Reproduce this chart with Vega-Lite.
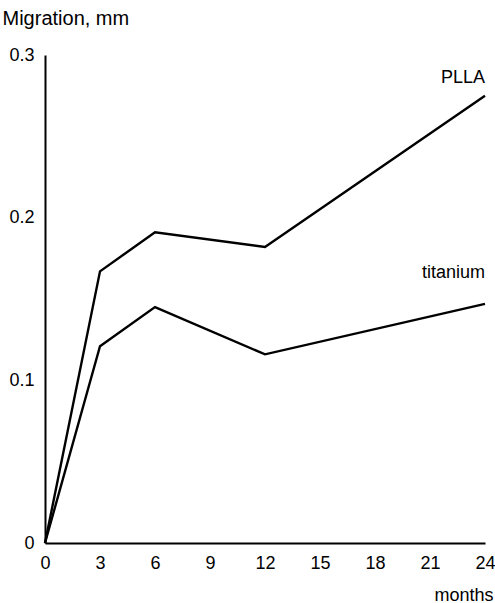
{
  "$schema": "https://vega.github.io/schema/vega-lite/v6.json",
  "autosize": {"type": "none"},
  "width": 440,
  "height": 488,
  "padding": {"left": 45, "top": 55, "right": 10, "bottom": 60},
  "background": "white",
  "config": {
    "view": {"stroke": null},
    "font": "Liberation Sans",
    "axis": {"grid": false, "ticks": false, "domainColor": "black", "domainWidth": 2, "labelColor": "black", "labelFont": "Liberation Sans", "labelFontSize": 18, "titleFont": "Liberation Sans", "titleFontSize": 18, "titleFontWeight": "normal", "titleColor": "black"}
  },
  "datasets": {
    "series": [
      {"month": 0, "migration": 0, "implant": "PLLA"},
      {"month": 3, "migration": 0.167, "implant": "PLLA"},
      {"month": 6, "migration": 0.191, "implant": "PLLA"},
      {"month": 12, "migration": 0.182, "implant": "PLLA"},
      {"month": 24, "migration": 0.275, "implant": "PLLA"},
      {"month": 0, "migration": 0, "implant": "titanium"},
      {"month": 3, "migration": 0.121, "implant": "titanium"},
      {"month": 6, "migration": 0.145, "implant": "titanium"},
      {"month": 12, "migration": 0.116, "implant": "titanium"},
      {"month": 24, "migration": 0.147, "implant": "titanium"}
    ],
    "labels": [
      {"month": 24, "migration": 0.286, "implant": "PLLA"},
      {"month": 24, "migration": 0.166, "implant": "titanium"}
    ]
  },
  "layer": [
    {
      "data": {"name": "series"},
      "mark": {"type": "line", "color": "black", "strokeWidth": 2.4},
      "encoding": {
        "x": {
          "field": "month", "type": "quantitative",
          "scale": {"domain": [0, 24], "nice": false, "zero": true},
          "axis": {"values": [0, 3, 6, 9, 12, 15, 18, 21, 24], "labelPadding": 11, "labelFlush": false, "title": "months", "titleAnchor": null, "titleAlign": "right", "titleX": 448, "titleY": 52, "titleBaseline": "middle"}
        },
        "y": {
          "field": "migration", "type": "quantitative",
          "scale": {"domain": [0, 0.3], "nice": false},
          "axis": {"values": [0, 0.1, 0.2, 0.3], "format": "~g", "labelPadding": 11, "labelFlush": false, "title": "Migration, mm", "titleFontSize": 20, "titleAngle": 0, "titleAlign": "left", "titleBaseline": "middle", "titleX": -43, "titleY": -37}
        },
        "detail": {"field": "implant"}
      }
    },
    {
      "data": {"name": "labels"},
      "mark": {"type": "text", "align": "right", "baseline": "middle", "fontSize": 18, "font": "Liberation Sans", "color": "black"},
      "encoding": {
        "x": {"field": "month", "type": "quantitative"},
        "y": {"field": "migration", "type": "quantitative"},
        "text": {"field": "implant"}
      }
    }
  ]
}
